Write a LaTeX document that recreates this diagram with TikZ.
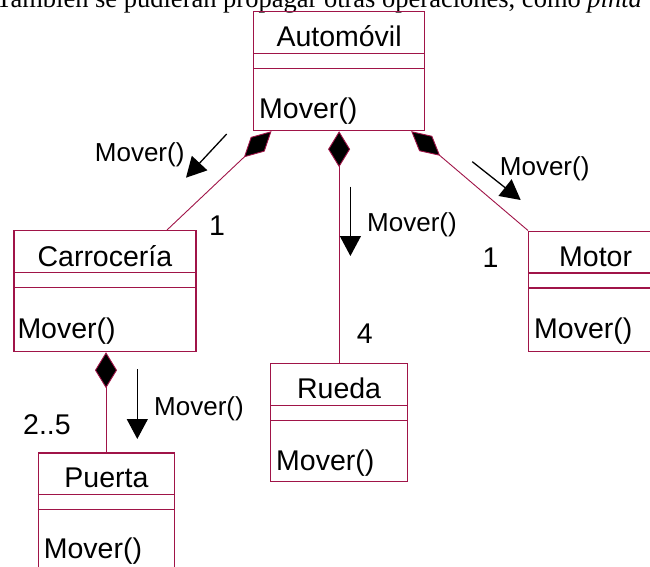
\documentclass[tikz,border=0pt]{standalone}
\usepackage{fontspec}
\setmainfont{Liberation Sans}
\newfontfamily\serifface{Liberation Serif}
\usetikzlibrary{arrows.meta}
\definecolor{umlred}{RGB}{160,20,72}
\begin{document}
\begin{tikzpicture}[x=1pt,y=-1pt,
  box/.style={draw=umlred, line width=1.2pt, inner sep=0pt, anchor=north west},
  sepline/.style={draw=umlred, line width=1.1pt},
  ttl/.style={font=\fontsize{28.5}{30}\selectfont, inner sep=0pt, anchor=base},
  op/.style={font=\fontsize{28.5}{30}\selectfont, inner sep=0pt, anchor=base west},
  lbl/.style={font=\fontsize{26}{28}\selectfont, inner sep=0pt, anchor=base west},
  mult/.style={font=\fontsize{28.5}{30}\selectfont, inner sep=0pt, anchor=base west},
  comp/.style={draw=umlred, line width=0.9pt, {Diamond[length=36pt,width=22pt,fill=black]}-},
  compd/.style={draw=umlred, line width=0.9pt, {Diamond[length=38pt,width=20pt,fill=black]}-},
  msg/.style={draw=black, line width=1.3pt, -{Triangle[length=20pt,width=21pt]}},
]
\useasboundingbox (0,0) rectangle (650,567);
\clip (0,0) rectangle (650,567);

% top text
\node[font=\serifface\fontsize{26.5}{28}\selectfont, anchor=base west, inner sep=0pt] (toptext) at (-4,8)
  {También se pudieran propagar otras operaciones, como \textit{pinta}};

% classes
\node[box, minimum width=171pt, minimum height=119pt] (auto) at (253,11) {};
\node[box, minimum width=182pt, minimum height=121pt] (carro) at (13.3,230) {};
\node[box, minimum width=134pt, minimum height=120pt] (motor) at (528,230.5) {};
\node[box, minimum width=137pt, minimum height=118pt] (rueda) at (270,363) {};
\node[box, minimum width=136.3pt, minimum height=120pt] (puerta) at (37.7,452.3) {};

\foreach \c in {auto,carro,motor,rueda,puerta}{
  \draw[sepline] ([yshift=-42.5pt]\c.north west) -- ([yshift=-42.5pt]\c.north east);
  \draw[sepline] ([yshift=-57.5pt]\c.north west) -- ([yshift=-57.5pt]\c.north east);
}

\node[ttl] (autot) at ([yshift=-36pt]auto.north) {Automóvil};
\node[ttl] (carrot) at ([yshift=-36.5pt]carro.north) {Carrocería};
\node[ttl] (motort) at ([yshift=-36.2pt]motor.north) {Motor};
\node[ttl] (ruedat) at ([yshift=-35pt]rueda.north) {Rueda};
\node[ttl] (puertat) at ([yshift=-35pt]puerta.north) {Puerta};

\node[op] (autoop) at ([xshift=6pt,yshift=-107pt]auto.north west) {Mover()};
\node[op] (carroop) at ([xshift=4pt,yshift=-108pt]carro.north west) {Mover()};
\node[op] (motorop) at ([xshift=6pt,yshift=-107.5pt]motor.north west) {Mover()};
\node[op] (ruedaop) at ([xshift=6pt,yshift=-107pt]rueda.north west) {Mover()};
\node[op] (puertaop) at ([xshift=6pt,yshift=-106pt]puerta.north west) {Mover()};

% composition connectors
\draw[comp] (auto.south) -- (rueda.north);
\draw[compd] ([xshift=18.5pt]auto.south west) -- ([xshift=153.7pt]carro.north west);
\draw[compd] ([xshift=-14pt]auto.south east) -- (motor.north west);
\draw[comp] ([xshift=92.7pt]carro.south west) -- ([xshift=68.3pt]puerta.north west);

% multiplicities
\node[mult] (m1) at (209,235) {1};
\node[mult] (m2) at (482.5,267) {1};
\node[mult] (m3) at (356.7,343) {4};
\node[mult] (m4) at (23,434) {2..5};

% message arrows
\coordinate (a1s) at (226.7,134);   \coordinate (a1e) at (186,177.7);
\coordinate (a2s) at (350.4,186.7); \coordinate (a2e) at (350.4,256);
\coordinate (a3s) at (472.3,161.7); \coordinate (a3e) at (520.7,200);
\coordinate (a4s) at (137.3,369);   \coordinate (a4e) at (137.3,439);
\draw[msg] (a1s) -- (a1e);
\draw[msg] (a2s) -- (a2e);
\draw[msg] (a3s) -- (a3e);
\draw[msg] (a4s) -- (a4e);

\node[lbl] (l1) at (94.7,161) {Mover()};
\node[lbl] (l2) at (367,231) {Mover()};
\node[lbl] (l3) at (499.7,175) {Mover()};
\node[lbl] (l4) at (154,415) {Mover()};
\end{tikzpicture}
\end{document}
